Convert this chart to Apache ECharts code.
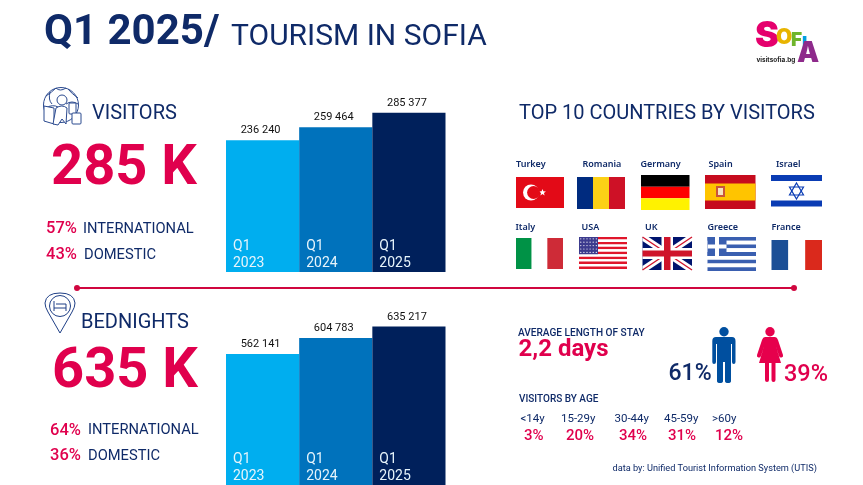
<!DOCTYPE html>
<html>
<head>
<meta charset="utf-8">
<title>Tourism in Sofia</title>
<style>
html, body { margin: 0; padding: 0; background: #fff; }
#main { width: 863px; height: 485px; }
</style>
<script src="https://cdn.jsdelivr.net/npm/echarts@6/dist/echarts.min.js"></script>
</head>
<body>
<div id="main"></div>
<script>
// values
var categories = ['Q1\n2023', 'Q1\n2024', 'Q1\n2025'];
var visitorsValues = [236240, 259464, 285377];
var bednightsValues = [562141, 604783, 635217];
var barColors = ['#00AEEF', '#0072BC', '#00205B'];
var countries = ['Turkey', 'Romania', 'Germany', 'Spain', 'Israel', 'Italy', 'USA', 'UK', 'Greece', 'France'];
var ageLabels = ['<14y', '15-29y', '30-44y', '45-59y', '>60y'];
var agePercents = ['3%', '20%', '34%', '31%', '12%'];

var NAVY = '#0F2A68';
var RED = '#E0004D';
var FONT = 'Roboto, Inter, sans-serif';
var FLAGFONT = '"Noto Sans", Lato, sans-serif';

var g = []; // all graphic elements
var pathCount = 0;

function txt(x, y, text, size, color, weight, align, family) {
	g.push({
		type : 'text',
		x : x,
		y : y,
		z : 20,
		style : {
			text : text,
			fill : color,
			font : (weight || 'normal') + ' ' + size + 'px ' + (family || FONT),
			textAlign : align || 'left',
			textVerticalAlign : 'middle'
		}
	});
}
function rect(x, y, w, h, color) {
	g.push({ type : 'rect', z : 5, shape : { x : x, y : y, width : w, height : h }, style : { fill : color } });
}
function poly(points, color) {
	g.push({ type : 'polygon', z : 6, shape : { points : points }, style : { fill : color } });
}
function circle(x, y, r, color) {
	g.push({ type : 'circle', z : 7, shape : { cx : x, cy : y, r : r }, style : { fill : color } });
}
function ring(x, y, r, color, width) {
	g.push({ type : 'circle', z : 7, shape : { cx : x, cy : y, r : r }, style : { fill : 'none', stroke : color, lineWidth : width } });
}
function line(x1, y1, x2, y2, color, width) {
	g.push({ type : 'line', z : 7, shape : { x1 : x1, y1 : y1, x2 : x2, y2 : y2 }, style : { stroke : color, lineWidth : width } });
}
function box(x, y, w, h, color, width) {
	g.push({ type : 'rect', z : 8, shape : { x : x, y : y, width : w, height : h, r : 1 }, style : { fill : '#fff', stroke : color, lineWidth : width } });
}
// the graphic component has no plain path type, so each svg path becomes its own shape
function path(d, fill, stroke, z) {
	var name = 'iconPath' + (pathCount++);
	echarts.graphic.registerShape(name, echarts.graphic.extendPath(d, {}));
	g.push({ type : name, z : z || 7, style : { fill : fill, stroke : stroke || null, lineWidth : 1 } });
}
function star(cx, cy, r, color) {
	var pts = [];
	for (var i = 0; i < 10; i++) {
		var a = -Math.PI / 2 + i * Math.PI / 5;
		var rr = i % 2 ? r * 0.42 : r;
		pts.push([ cx + rr * Math.cos(a), cy + rr * Math.sin(a) ]);
	}
	poly(pts, color);
}

/* ---------- flags ---------- */
function stripesV(x, y, w, h, cols) {
	for (var i = 0; i < cols.length; i++) {
		rect(x + i * w / cols.length, y, w / cols.length, h, cols[i]);
	}
}
function stripesH(x, y, w, h, cols) {
	for (var i = 0; i < cols.length; i++) {
		rect(x, y + i * h / cols.length, w, h / cols.length, cols[i]);
	}
}
function drawFlags() {
	// Turkey
	rect(516, 177, 48, 31, '#E30A17');
	circle(531, 192.5, 8, '#fff');
	circle(533.5, 192.5, 6.4, '#E30A17');
	star(542.5, 192.5, 3.6, '#fff');
	// Romania
	stripesV(577, 177, 48, 32, ['#002B7F', '#FCD116', '#CE1126']);
	// Germany
	stripesH(641, 175, 48.5, 35, ['#000', '#FF0000', '#FFF200']);
	// Spain
	rect(705, 175, 50.5, 34, '#C60B1E');
	rect(705, 183.5, 50.5, 17, '#FFC400');
	rect(716, 186, 9, 11, '#C9553A');
	rect(718, 188, 5, 7, '#F4E3C0');
	// Israel
	rect(771, 175, 51, 32, '#fff');
	rect(771, 175, 51, 6, '#0A3CB4');
	rect(771, 200.5, 51, 6, '#0A3CB4');
	g.push({ type : 'polygon', z : 6, shape : { points : [[796.5,183],[803.5,195],[789.5,195]] }, style : { fill : 'none', stroke : '#0A3CB4', lineWidth : 1.2 } });
	g.push({ type : 'polygon', z : 6, shape : { points : [[796.5,199],[803.5,187],[789.5,187]] }, style : { fill : 'none', stroke : '#0A3CB4', lineWidth : 1.2 } });
	// Italy
	stripesV(516, 238, 47, 31, ['#009246', '#fff', '#CE2B37']);
	// USA
	var i, j;
	for (i = 0; i < 13; i++) {
		rect(579, 237 + i * 32 / 13, 48, 32 / 13, i % 2 ? '#fff' : '#E0162B');
	}
	rect(579, 237, 19, 17.2, '#3C3B8E');
	for (i = 0; i < 5; i++) {
		for (j = 0; j < 6; j++) {
			circle(580.8 + j * 3.1, 238.8 + i * 3.4, 0.6, '#fff');
		}
	}
	// UK
	var ux = 642.5, uy = 237, uw = 49.5, uh = 33;
	rect(ux, uy, uw, uh, '#00146E');
	poly([[ux,uy],[ux+6,uy],[ux+uw,uy+uh-4],[ux+uw,uy+uh],[ux+uw-6,uy+uh],[ux,uy+4]], '#fff');
	poly([[ux+uw,uy],[ux+uw,uy+4],[ux+6,uy+uh],[ux,uy+uh],[ux,uy+uh-4],[ux+uw-6,uy]], '#fff');
	line(ux, uy, ux + uw, uy + uh, '#CF142B', 1.4);
	line(ux + uw, uy, ux, uy + uh, '#CF142B', 1.4);
	g.push({ type : 'rect', z : 7, shape : { x : ux + 19, y : uy, width : 11.5, height : uh }, style : { fill : '#fff' } });
	g.push({ type : 'rect', z : 7, shape : { x : ux, y : uy + 11, width : uw, height : 11 }, style : { fill : '#fff' } });
	g.push({ type : 'rect', z : 7, shape : { x : ux + 21.5, y : uy, width : 6.5, height : uh }, style : { fill : '#CF142B' } });
	g.push({ type : 'rect', z : 7, shape : { x : ux, y : uy + 13.5, width : uw, height : 6 }, style : { fill : '#CF142B' } });
	// Greece
	for (i = 0; i < 9; i++) {
		rect(707.5, 237 + i * 34 / 9, 48.5, 34 / 9, i % 2 ? '#fff' : '#3A5FB0');
	}
	rect(707.5, 237, 19, 19, '#3A5FB0');
	g.push({ type : 'rect', z : 7, shape : { x : 715, y : 237, width : 4, height : 19 }, style : { fill : '#fff' } });
	g.push({ type : 'rect', z : 7, shape : { x : 707.5, y : 244.5, width : 19, height : 4 }, style : { fill : '#fff' } });
	// France
	stripesV(771.5, 240, 50.5, 30, ['#1B4F96', '#fff', '#DA291C']);
}

/* ---------- icons ---------- */
function drawIcons() {
	// globe with traveller and suitcase
	var c = '#2B4A8F';
	ring(61, 105, 17.5, c, 1);
	ring(62, 100, 5, c, 1);
	path('M46 96 Q52 92 56 88 Q60 92 66 88 M68 89 Q72 94 78 98 M45 108 Q53 104 58 107 M66 104 Q72 100 78 104 M50 92 Q48 100 52 104', 'none', c);
	path('M44 106 L54 108 L54 124 L44 121 Z', '#fff', c, 8);
	path('M53 124 L56 108 Q62 104 67 108 L66 124 L62 119 L58 125 Z', '#fff', c, 8);
	box(69, 103, 7, 11, c, 1);
	box(72, 113, 9, 11, c, 1);
	// pin with bed
	var p = '#1F3F86';
	path('M60 333 L48 312 Q45 307 45 303 Q46 293 60 293 Q74 293 75 303 Q75 307 72 312 Z', '#fff', p);
	ring(60, 306, 10.5, p, 1);
	path('M54 301 L54 311 M54 308 L66 308 L66 311 M66 304 L66 308 M56 304 L66 304', 'none', p);
	// man and woman
	circle(724, 331.7, 4.7, '#004F9F');
	path('M716 337 L732 337 Q735.5 337 735.5 341 L735.5 362 Q735.5 364 733.7 364 Q732 364 732 362 L732 344 L731 344 L731 381 Q731 383 728 383 Q725 383 725 381 L725 362 L723 362 L723 381 Q723 383 720 383 Q717 383 717 381 L717 344 L716 344 L716 362 Q716 364 714 364 Q712.3 364 712.3 362 L712.3 341 Q712.3 337 716 337Z', '#004F9F');
	circle(770, 331.7, 4.7, '#E6004C');
	path('M765 337 L775 337 Q777 337 778 340 L783 355 Q783.5 357 781.5 357.5 Q780 358 779 356 L775.5 345 L781 363 L775.5 363 L775.5 380 Q775.5 382 773.5 382 Q771.5 382 771.5 380 L771.5 363 L769 363 L769 380 Q769 382 767 382 Q765 382 765 380 L765 363 L759 363 L764.5 345 L761 356 Q760 358 758.5 357.5 Q756.5 357 757 355 L762 340 Q763 337 765 337Z', '#E6004C');
}

function drawLogo() {
	var f = 'Inter, sans-serif';
	txt(755, 36, 'S', 36, '#E5006D', '900', 'left', f);
	txt(776, 38, 'O', 21, '#E8B400', '900', 'left', f);
	txt(791, 40, 'F', 19, '#6FB52C', '900', 'left', f);
	txt(802, 44, 'I', 18, '#00A0DF', '900', 'left', f);
	txt(797, 53.5, 'A', 28, '#8E2A8B', '900', 'left', f);
	txt(756.5, 60, 'visitsofia.bg', 6.4, '#222', 'bold', 'left', f);
}

/* ---------- texts ---------- */
function drawTexts() {
	txt(44, 33, 'Q1 2025/', 42, NAVY, 'bold');
	txt(231, 37, 'TOURISM IN SOFIA', 30, NAVY, 'normal');
	txt(92, 114, 'VISITORS', 20, NAVY, 'normal');
	txt(51, 170, '285 K', 56, RED, 'bold');
	txt(46, 229, '57%', 16.5, RED, '500');
	txt(83, 229, 'INTERNATIONAL', 14.7, NAVY, 'normal');
	txt(46, 255, '43%', 16.5, RED, '500');
	txt(84, 255, 'DOMESTIC', 14.7, NAVY, 'normal');
	txt(81, 322.5, 'BEDNIGHTS', 20, NAVY, 'normal');
	txt(52, 373, '635 K', 56, RED, 'bold');
	txt(50, 430.5, '64%', 16.5, RED, '500');
	txt(88, 430.5, 'INTERNATIONAL', 14.7, NAVY, 'normal');
	txt(50, 456, '36%', 16.5, RED, '500');
	txt(88, 456, 'DOMESTIC', 14.7, NAVY, 'normal');
	txt(519, 113.5, 'TOP 10 COUNTRIES BY VISITORS', 20, NAVY, 'normal');

	var nameX = [516, 582.5, 640.5, 708.5, 776, 515.5, 581.5, 645, 707.5, 771.5];
	for (var i = 0; i < countries.length; i++) {
		txt(nameX[i], i < 5 ? 164 : 227.5, countries[i], 9, NAVY, '600', 'left', FLAGFONT);
	}

	txt(518, 333, 'AVERAGE LENGTH OF STAY', 10.1, NAVY, '500');
	txt(518.5, 350, '2,2 days', 24, RED, 'bold');
	txt(668.5, 374, '61%', 23, NAVY, '500');
	txt(784, 375.5, '39%', 23.5, RED, '500');
	txt(519, 399, 'VISITORS BY AGE', 10, NAVY, '500');

	var ageX = [520.5, 561, 614.5, 664, 712];
	var pctX = [524, 566, 619, 668, 715];
	for (var k = 0; k < ageLabels.length; k++) {
		txt(ageX[k], 419, ageLabels[k], 11.5, NAVY, 'normal');
		txt(pctX[k], 436, agePercents[k], 15, RED, '500');
	}
	txt(612.5, 469, 'data by: Unified Tourist Information System (UTIS)', 9.2, NAVY, 'normal');

	// red separator
	line(77, 288, 794, 288, '#D0063F', 2);
	circle(77, 288, 3, '#D0063F');
	circle(794, 288, 3, '#D0063F');
}

function spaced(v) {
	return String(v).replace(/\B(?=(\d{3})+$)/g, ' ');
}

// two bars on one band: coloured one with value on top, empty one that only carries the period
function barPair(gridIndex, values, offsetY) {
	var colored = values.map(function(v, i) {
		return { value : v, itemStyle : { color : barColors[i] } };
	});
	return [ {
		type : 'bar',
		xAxisIndex : gridIndex,
		yAxisIndex : gridIndex,
		barWidth : '100%',
		barGap : '-100%',
		data : colored,
		silent : true,
		label : {
			show : true,
			position : 'top',
			distance : 4,
			offset : [ -2, 0 ],
			fontFamily : FONT,
			fontSize : 11,
			color : '#111',
			formatter : function(p) { return spaced(p.value); }
		}
	}, {
		type : 'bar',
		xAxisIndex : gridIndex,
		yAxisIndex : gridIndex,
		barWidth : '100%',
		barGap : '-100%',
		data : values,
		silent : true,
		itemStyle : { color : 'transparent' },
		label : {
			show : true,
			position : 'insideBottomLeft',
			distance : 0,
			offset : [ 7, offsetY ],
			fontFamily : FONT,
			fontSize : 14,
			lineHeight : 17,
			color : '#E6F4FB',
			formatter : '{b}'
		}
	} ];
}

function axisX(i) {
	return { type : 'category', gridIndex : i, data : categories, show : false };
}

drawFlags();
drawIcons();
drawLogo();
drawTexts();

var myChart = echarts.init(document.getElementById('main'));
var option = {
	animation : false,
	backgroundColor : '#fff',
	grid : [
		{ left : 226, top : 104.6, width : 219.5, height : 167.4 },
		{ left : 226, top : 317, width : 219.5, height : 168 }
	],
	xAxis : [ axisX(0), axisX(1) ],
	yAxis : [
		{ type : 'value', gridIndex : 0, min : 0, max : 300000, show : false },
		{ type : 'value', gridIndex : 1, min : 216000, max : 660000, show : false }
	],
	series : barPair(0, visitorsValues, 0).concat(barPair(1, bednightsValues, 0)),
	graphic : { elements : g }
};
myChart.setOption(option);
</script>
</body>
</html>
